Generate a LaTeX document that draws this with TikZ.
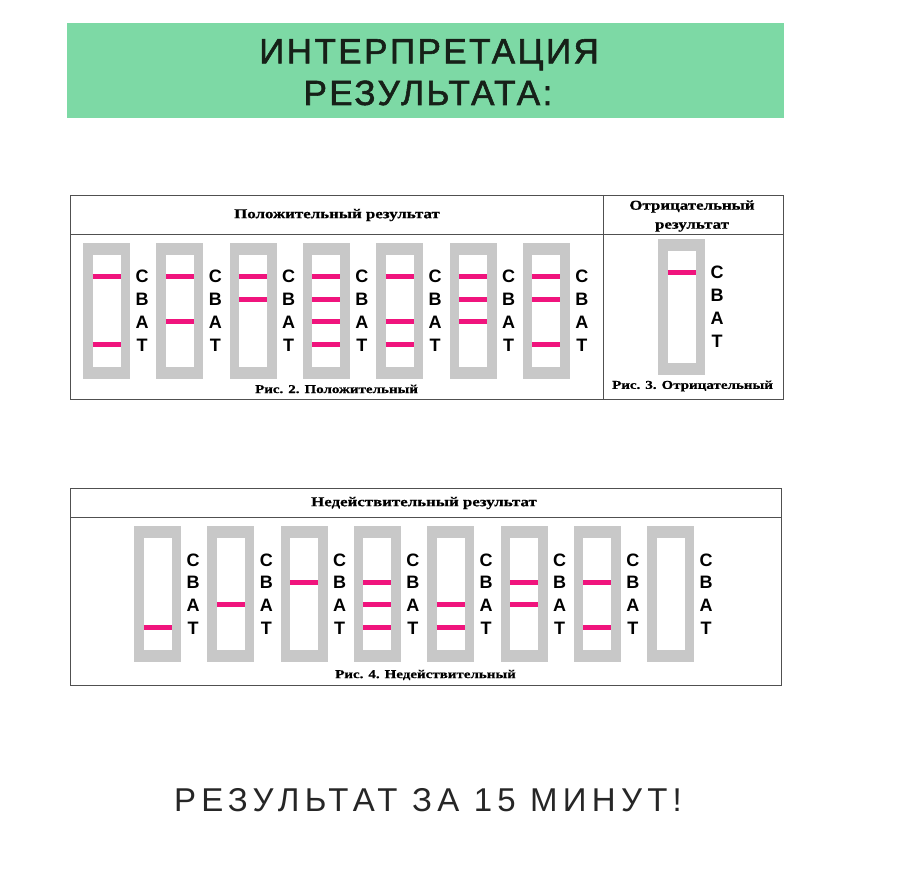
\documentclass[tikz,border=0pt]{standalone}
\usepackage{fontspec}
\setmainfont{Liberation Serif}
\newfontfamily\stripfont{Liberation Sans}
\newfontfamily\headfont[FakeStretch=1.25,FakeBold=0.6]{Liberation Serif}
\newfontfamily\titlefont[LetterSpace=7,FakeBold=1.6]{Liberation Sans}
\newfontfamily\footfont[LetterSpace=16]{Liberation Sans}
\definecolor{bannergreen}{RGB}{125,217,165}
\definecolor{stripgray}{RGB}{200,200,200}
\definecolor{linepink}{RGB}{240,20,125}
\definecolor{framegray}{RGB}{80,80,80}
\definecolor{inkdark}{RGB}{22,32,24}
% 试纸条: #1 名称, #2 左边 x, #3 上边 y
\newcommand{\teststrip}[3]{%
  \fill[stripbody] (#2,#3) rectangle ++(47,136);
  \fill[window] (#2+9.5,#3+12) rectangle ++(28,112);
  \foreach \m [count=\i from 0] in {C,B,A,T}
    \node[marks] (#1\m) at (#2+59,#3+33.5+22.7*\i+6.5) {\m};
}
\begin{document}
\begin{tikzpicture}[x=1pt,y=-1pt,
  frame/.style={draw=framegray,line width=0.9pt},
  stripbody/.style={fill=stripgray},
  window/.style={fill=white},
  band/.style={draw=linepink,line width=5pt},
  marks/.style={anchor=base,inner sep=0pt,font=\stripfont\bfseries\fontsize{18}{20}\selectfont},
  headtext/.style={inner sep=0pt,align=center,font=\headfont\bfseries\fontsize{13.5}{19}\selectfont},
  captext/.style={inner sep=0pt,font=\headfont\bfseries\fontsize{12}{14}\selectfont}]
  \useasboundingbox (0,0) rectangle (906,869);
  % 标题
  \fill[bannergreen] (67,23) rectangle (784,118);
  \node[anchor=base,inner sep=0pt,text=inkdark,font=\titlefont\fontsize{35}{40}\selectfont]
    (title1) at (429,63.3) {ИНТЕРПРЕТАЦИЯ};
  \node[anchor=base,inner sep=0pt,text=inkdark,font=\titlefont\fontsize{35}{40}\selectfont]
    (title2) at (428,105) {РЕЗУЛЬТАТА:};
  % 阳性 / 阴性 表格
  \draw[frame] (70,195) rectangle (783,399);
  \draw[frame] (70,234) -- (783,234);
  \draw[frame] (603,195) -- (603,399);
  \node[headtext] (poshead) at (337,215) {Положительный результат};
  \node[headtext] (neghead) at (692,216) {Отрицательный\\результат};
  \node[captext] (poscap) at (336.5,389) {Рис. 2. Положительный};
  \node[captext] (negcap) at (692.5,386) {Рис. 3. Отрицательный};
  \foreach \k in {0,...,6}
    \teststrip{pos\k}{83+73.3*\k}{243};
  \foreach \k/\l in {0/0,0/3,1/0,1/2,2/0,2/1,3/0,3/1,3/2,3/3,4/0,4/2,4/3,5/0,5/1,5/2,6/0,6/1,6/3}
    \draw[band] (83+73.3*\k+9.5,243+33.5+22.7*\l) -- ++(28,0);
  \teststrip{neg}{658}{239};
  \draw[band] (658+9.5,239+33.5) -- ++(28,0);
  % 无效 表格
  \draw[frame] (70,488) rectangle (781,685);
  \draw[frame] (70,517) -- (781,517);
  \node[headtext] (badhead) at (424,503) {Недействительный результат};
  \node[captext] (badcap) at (425.5,675) {Рис. 4. Недействительный};
  \foreach \k in {0,...,7}
    \teststrip{bad\k}{134+73.3*\k}{526};
  \foreach \k/\l in {0/3,1/2,2/1,3/1,3/2,3/3,4/2,4/3,5/1,5/2,6/1,6/3}
    \draw[band] (134+73.3*\k+9.5,526+33.5+22.7*\l) -- ++(28,0);
  % 底部文字
  \node[anchor=base,inner sep=0pt,text=black!85,font=\footfont\fontsize{33}{36}\selectfont]
    (slogan) at (428,811) {РЕЗУЛЬТАТ ЗА 15 МИНУТ!};
\end{tikzpicture}
\end{document}
